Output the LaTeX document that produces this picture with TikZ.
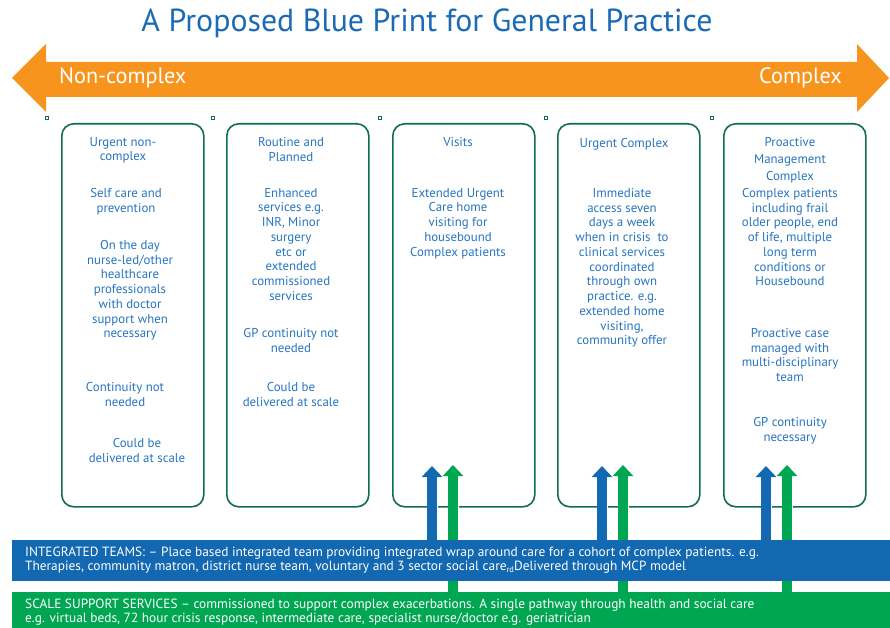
\documentclass[tikz,border=0pt]{standalone}
\usepackage{fontspec}
\setmainfont{PT Sans}
\usetikzlibrary{arrows.meta}

\definecolor{titleblue}{RGB}{27,106,181}
\definecolor{spanorange}{RGB}{247,148,30}
\definecolor{boxgreen}{RGB}{16,108,82}
\definecolor{textblue}{RGB}{38,116,192}
\definecolor{teamblue}{RGB}{19,104,178}
\definecolor{scalegreen}{RGB}{0,166,81}

\begin{document}
\begin{tikzpicture}[x=1bp, y=-1bp,
    colbox/.style={draw=boxgreen, line width=1.6bp, rounded corners=12bp, anchor=north west,
      minimum width=142bp, minimum height=383bp, inner sep=0pt},
    boxtext/.style={text=textblue, align=center, anchor=north, inner sep=0pt,
      font=\fontsize{12.9}{14.8}\selectfont},
    band/.style={anchor=north west, minimum width=878bp, inner sep=0pt},
    bandtext/.style={text=white, anchor=north west, align=left, inner sep=0pt,
      font=\fontsize{13.4}{14.2}\selectfont},
    handle/.style={draw=boxgreen, line width=0.6bp, fill=white, minimum size=3.5bp, inner sep=0pt},
    teamarrow/.style={draw=teamblue, line width=9.5bp, -{Triangle[width=20bp,length=11bp]},
      preaction={draw=white, line width=11bp, -{Triangle[width=22.5bp,length=12.5bp]}}},
    scalearrow/.style={draw=scalegreen, line width=9.5bp, -{Triangle[width=20bp,length=11bp]},
      preaction={draw=white, line width=11bp, -{Triangle[width=22.5bp,length=12.5bp]}}}]

\useasboundingbox (0,0) rectangle (890,628);

% title and the orange span
\node[text=titleblue, font=\fontsize{32}{34}\selectfont] (title) at (427,23) {A Proposed Blue Print for General Practice};
\fill[spanorange] (12,78) -- (46,44) -- (46,62) -- (857,62) -- (857,44) -- (889,78)
  -- (857,112) -- (857,97) -- (46,97) -- (46,112) -- cycle;
\node[right, text=white, inner sep=0pt, font=\fontsize{22.3}{24}\selectfont] (noncomplex) at (59,78) {Non-complex};
\node[left, text=white, inner sep=0pt, font=\fontsize{22.3}{24}\selectfont] (complex) at (842,78) {Complex};

\foreach \hx in {47,213,380,546,712}
  \node[handle] (handle\hx) at (\hx,118) {};

% the five columns
\node[colbox] (urgent) at (61,123) {};
\node[colbox] (routine) at (226,123) {};
\node[colbox] (visits) at (392,123) {};
\node[colbox] (crisis) at (557,123) {};
\node[colbox] (proactive) at (723,123) {};

\node[boxtext] (urgenthead) at (123,137) {Urgent non-\\complex};
\node[boxtext] (urgentself) at (126,188) {Self care and\\prevention};
\node[boxtext] (urgentday) at (130,240) {On the day\\nurse-led/other\\healthcare\\professionals\\with doctor\\support when\\necessary};
\node[boxtext] (urgentcont) at (125,382) {Continuity not\\needed};
\node[boxtext] (urgentscale) at (137,438) {Could be\\delivered at scale};

\node[boxtext] (routinehead) at (291,137) {Routine and\\Planned};
\node[boxtext] (routineserv) at (291,188) {Enhanced\\services e.g.\\INR, Minor\\surgery\\etc or\\extended\\commissioned\\services};
\node[boxtext] (routinecont) at (291,328) {GP continuity not\\needed};
\node[boxtext] (routinescale) at (291,382) {Could be\\delivered at scale};

\node[boxtext] (visitshead) at (458,137) {Visits};
\node[boxtext] (visitshome) at (458,188) {Extended Urgent\\Care home\\visiting for\\housebound\\Complex patients};

\node[boxtext] (crisishead) at (624,138) {Urgent Complex};
\node[boxtext] (crisisaccess) at (622,188) {Immediate\\access seven\\days a week\\when in crisis\ \ to\\clinical services\\coordinated\\through own\\practice. e.g.\\extended home\\visiting,\\community offer};

\node[boxtext, font=\fontsize{12.9}{17}\selectfont] (proactivehead) at (790,137) {Proactive\\Management\\Complex};
\node[boxtext] (proactivepat) at (790,188) {Complex patients\\including frail\\older people, end\\of life, multiple\\long term\\conditions or\\Housebound};
\node[boxtext] (proactivecase) at (790,328) {Proactive case\\managed with\\multi-disciplinary\\team};
\node[boxtext] (proactivecont) at (790,417) {GP continuity\\necessary};

% support bands and the arrows up into the columns
\coordinate (visitsteam) at (432,466);
\coordinate (visitsscale) at (453,465);
\coordinate (crisisteam) at (602,466);
\coordinate (crisisscale) at (623,465);
\coordinate (proactiveteam) at (766,466);
\coordinate (proactivescale) at (787,465);

\node[band, fill=scalegreen, minimum height=36bp] (scale) at (12,592) {};
\foreach \c in {visits,crisis,proactive}
  \draw[scalearrow] (\c scale |- scale.north) -- (\c scale);

\node[band, fill=teamblue, minimum height=41bp] (teams) at (12,540) {};
\foreach \c in {visits,crisis,proactive}
  \draw[teamarrow] (\c team |- teams.north) -- (\c team);

\node[bandtext] (teamstext) at (25,547) {INTEGRATED TEAMS: – Place based integrated team providing integrated wrap around care for a cohort of complex patients. e.g.\\Therapies, community matron, district nurse team, voluntary and 3 sector social care\raisebox{-1.5bp}{\fontsize{8.5}{9}\selectfont rd}Delivered through MCP model};
\node[bandtext] (scaletext) at (25,599) {SCALE SUPPORT SERVICES – commissioned to support complex exacerbations. A single pathway through health and social care\\e.g. virtual beds, 72 hour crisis response, intermediate care, specialist nurse/doctor e.g. geriatrician};
\end{tikzpicture}
\end{document}
